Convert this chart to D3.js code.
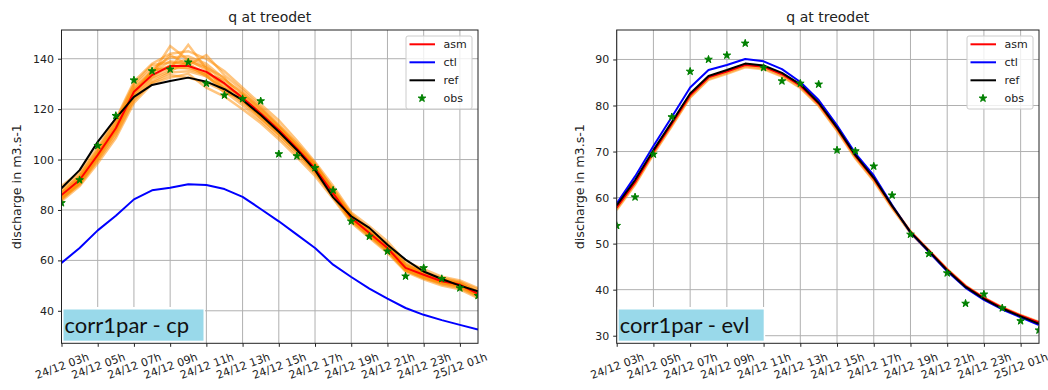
<!DOCTYPE html>
<html>
<head>
<meta charset="utf-8">
<script src="https://cdn.jsdelivr.net/npm/d3@7"></script>
<style>
    body { margin: 0; background: #fff; }
    svg text { font-family: "DejaVu Sans", sans-serif; }
</style>
</head>
<body>
<svg id="chart" width="1048" height="390"></svg>
<script>
// hourly steps from 24/12 03h to 25/12 02h
const times = d3.timeHour.range(new Date(2018, 11, 24, 3), new Date(2018, 11, 25, 3));
const tickTimes = times.filter((d, i) => i % 2 === 0);

const seriesNames = ["asm", "ctl", "ref", "obs"];

// ---- left panel : corr1par - cp
const cpAsm = [85.9, 91.9, 101.8, 112.4, 126.9, 133.5, 137.1, 137.1, 134.8, 130.2, 124.5, 118.3, 111.7, 104.4, 96.5, 86.6, 76.8, 70.9, 64.9, 57.0, 54.3, 51.7, 50.4, 46.7];
const cpCtl = [59.0, 64.9, 71.9, 77.7, 84.2, 87.8, 88.8, 90.2, 89.9, 88.3, 85.2, 80.4, 75.5, 70.2, 64.9, 58.3, 53.4, 48.8, 44.8, 41.1, 38.4, 36.3, 34.4, 32.6];
const cpRef = [88.6, 95.8, 107.0, 116.3, 124.9, 129.6, 131.2, 132.5, 130.9, 127.9, 123.6, 117.7, 111.0, 103.8, 95.8, 85.0, 77.5, 72.9, 66.2, 60.3, 55.6, 52.6, 50.0, 47.7];
const cpObs = [82.8, 91.9, 105.5, 117.4, 131.5, 135.1, 135.8, 138.6, 130.2, 125.5, 124.1, 123.2, 102.2, 101.4, 96.7, 87.8, 75.5, 69.5, 63.6, 53.7, 57.0, 52.7, 49.0, 46.0];
const cpMembers = [
    [84.0, 90.5, 100.0, 110.5, 124.0, 131.0, 134.5, 135.0, 133.0, 128.5, 122.5, 116.5, 110.0, 103.0, 95.0, 85.5, 76.0, 70.0, 64.0, 56.5, 53.5, 51.0, 49.5, 46.0],
    [87.5, 93.5, 103.5, 114.5, 129.5, 136.0, 140.5, 141.0, 138.0, 132.0, 126.0, 120.0, 113.0, 105.5, 97.5, 87.5, 77.5, 71.5, 65.5, 57.5, 55.0, 52.5, 51.0, 47.5],
    [86.0, 92.0, 102.5, 113.0, 127.5, 134.0, 145.0, 139.5, 135.5, 129.0, 125.0, 119.0, 112.0, 105.0, 97.0, 87.0, 77.0, 71.0, 65.5, 58.0, 55.5, 52.0, 50.5, 47.0],
    [85.0, 91.0, 101.0, 111.5, 126.0, 135.5, 136.0, 145.5, 136.0, 127.5, 123.0, 117.5, 111.0, 104.0, 96.0, 86.0, 76.5, 70.5, 64.5, 56.5, 54.0, 51.5, 50.0, 46.5],
    [88.5, 94.0, 104.0, 115.5, 130.0, 137.5, 138.5, 137.5, 141.5, 133.5, 127.5, 121.0, 114.0, 106.0, 98.0, 88.5, 78.5, 72.5, 66.5, 58.5, 55.5, 53.0, 51.5, 48.5],
    [84.5, 90.0, 99.5, 109.5, 123.5, 130.5, 133.5, 132.5, 130.5, 127.0, 121.5, 115.5, 109.0, 102.0, 94.5, 85.0, 75.5, 69.5, 63.5, 56.0, 53.0, 50.5, 49.0, 45.5],
    [86.5, 92.5, 102.0, 113.5, 128.5, 134.5, 139.0, 138.0, 134.0, 131.5, 126.5, 120.5, 113.5, 106.5, 98.5, 88.0, 78.0, 72.0, 66.0, 58.0, 55.0, 52.5, 51.0, 47.5],
    [85.5, 91.5, 101.5, 112.0, 127.0, 133.0, 137.5, 140.0, 137.0, 130.5, 124.0, 117.0, 110.5, 103.5, 95.5, 86.5, 77.0, 71.0, 64.0, 56.0, 53.5, 51.0, 50.0, 46.0],
    [87.0, 93.0, 103.0, 114.0, 128.0, 135.0, 137.0, 136.0, 133.5, 126.5, 124.5, 118.5, 112.5, 105.0, 97.0, 87.0, 77.5, 71.5, 65.0, 57.0, 54.5, 52.0, 50.5, 47.0],
    [85.0, 90.5, 100.5, 111.0, 125.5, 132.5, 136.0, 136.5, 134.0, 130.0, 124.0, 118.0, 111.5, 104.0, 96.0, 86.0, 76.0, 70.0, 64.5, 57.5, 54.0, 51.5, 50.0, 46.5],
    [89.5, 95.0, 105.0, 116.0, 131.0, 138.0, 142.0, 143.0, 140.0, 135.0, 128.5, 122.0, 115.5, 107.5, 99.0, 89.5, 79.0, 73.5, 67.5, 59.5, 56.5, 53.5, 52.0, 49.0],
    [83.5, 89.5, 98.5, 108.5, 122.5, 130.0, 132.5, 134.0, 128.5, 125.0, 120.0, 114.5, 108.0, 101.0, 93.5, 84.5, 75.0, 69.0, 63.0, 55.5, 52.5, 50.0, 48.5, 45.0],
    [86.5, 93.0, 102.0, 112.5, 126.0, 134.5, 141.5, 137.5, 133.0, 128.0, 126.0, 119.5, 113.0, 105.5, 98.0, 87.5, 78.0, 72.0, 66.0, 58.5, 55.0, 52.0, 51.0, 47.5],
    [84.5, 91.0, 101.5, 112.0, 125.0, 132.0, 135.0, 139.0, 136.5, 132.5, 123.5, 116.5, 110.0, 103.0, 95.0, 86.0, 76.0, 70.0, 64.0, 56.0, 53.0, 51.0, 49.5, 46.0]
];
const cpTicks = [40, 60, 80, 100, 120, 140];

// ---- right panel : corr1par - evl
const evlAsm = [57.8, 63.3, 69.9, 76.0, 82.2, 86.1, 87.4, 88.8, 88.4, 86.8, 84.3, 80.4, 75.0, 69.0, 64.1, 58.1, 52.6, 48.5, 44.4, 40.8, 38.2, 36.1, 34.4, 32.9];
const evlCtl = [58.7, 64.6, 71.2, 77.5, 83.9, 87.7, 88.8, 90.1, 89.6, 87.9, 85.1, 81.2, 75.7, 69.6, 64.8, 58.4, 52.4, 48.2, 44.0, 40.4, 37.8, 35.7, 34.0, 32.3];
const evlRef = [58.3, 63.8, 70.3, 76.4, 82.6, 86.4, 87.7, 89.1, 88.7, 87.1, 84.6, 80.6, 75.2, 69.2, 64.3, 58.2, 52.5, 48.4, 44.2, 40.6, 38.0, 35.9, 34.2, 32.6];
const evlObs = [53.9, 60.1, 69.4, 77.5, 87.4, 90.0, 90.9, 93.5, 88.2, 85.3, 84.8, 84.6, 70.3, 70.1, 66.8, 60.5, 52.0, 47.8, 43.6, 37.0, 39.0, 36.0, 33.2, 31.2];
const evlMembers = [
    [57.5, 63.0, 69.6, 75.7, 81.9, 85.8, 87.1, 88.5, 88.1, 86.5, 84.0, 80.1, 74.7, 68.7, 63.8, 57.9, 52.4, 48.3, 44.3, 40.7, 38.1, 36.0, 34.3, 32.8],
    [57.3, 62.8, 69.4, 75.5, 81.7, 85.6, 86.9, 88.3, 87.9, 86.3, 83.8, 79.9, 74.5, 68.5, 63.6, 57.7, 52.3, 48.2, 44.2, 40.6, 38.0, 35.9, 34.2, 32.7],
    [57.9, 63.4, 70.0, 76.1, 82.3, 86.2, 87.5, 88.9, 88.5, 86.9, 84.4, 80.5, 75.1, 69.1, 64.2, 58.2, 52.7, 48.6, 44.5, 40.9, 38.3, 36.2, 34.5, 33.0]
];
const evlTicks = [30, 40, 50, 60, 70, 80, 90];

const colors = { asm: "red", ctl: "blue", ref: "black", obs: "green", member: "#ff8c00" };

const svg = d3.select("#chart");

function drawPanel(p) {
    const top = 30, bottom = 343.3;
    const x = d3.scaleTime().domain(d3.extent(times)).range([p.left, p.right]);
    const y = d3.scaleLinear().domain(p.yDomain).range([bottom, top]);
    const g = svg.append("g");

    // grid
    g.append("g").selectAll("line").data(tickTimes).join("line")
        .attr("x1", d => x(d)).attr("x2", d => x(d))
        .attr("y1", top).attr("y2", bottom)
        .attr("stroke", "#b0b0b0").attr("stroke-width", 1);
    g.append("g").selectAll("line").data(p.yTicks).join("line")
        .attr("x1", p.left).attr("x2", p.right)
        .attr("y1", d => y(d)).attr("y2", d => y(d))
        .attr("stroke", "#b0b0b0").attr("stroke-width", 1);

    // clip to the axes
    svg.append("clipPath").attr("id", p.id + "-clip")
        .append("rect").attr("x", p.left).attr("y", top)
        .attr("width", p.right - p.left).attr("height", bottom - top);
    const plot = g.append("g").attr("clip-path", "url(#" + p.id + "-clip)");

    const line = d3.line().x((d, i) => x(times[i])).y(d => y(d));

    // ensemble members
    plot.selectAll("path.member").data(p.members).join("path")
        .attr("class", "member")
        .attr("d", line)
        .attr("fill", "none")
        .attr("stroke", colors.member)
        .attr("stroke-opacity", 0.5)
        .attr("stroke-width", 2.5);

    [["asm", p.asm], ["ctl", p.ctl], ["ref", p.ref]].forEach(function (s) {
        plot.append("path")
            .attr("d", line(s[1]))
            .attr("fill", "none")
            .attr("stroke", colors[s[0]])
            .attr("stroke-width", 2)
            .attr("stroke-linejoin", "round");
    });

    // observations
    const star = d3.symbol().type(d3.symbolStar).size(18);
    plot.selectAll("path.obs").data(p.obs).join("path")
        .attr("class", "obs")
        .attr("transform", (d, i) => "translate(" + x(times[i]) + "," + y(d) + ")")
        .attr("d", star)
        .attr("fill", colors.obs)
        .attr("stroke", colors.obs)
        .attr("stroke-width", 1);

    // annotation box
    g.append("rect")
        .attr("x", p.left + 0.5).attr("y", 307)
        .attr("width", p.boxWidth + 3).attr("height", 35.8)
        .attr("fill", "#fff");
    g.append("rect")
        .attr("x", p.left + 2).attr("y", 309.5)
        .attr("width", p.boxWidth).attr("height", 31.2)
        .attr("fill", "#99d9ea");
    g.append("text")
        .attr("x", p.left + 3).attr("y", 332.5)
        .style("font-family", "Lato, sans-serif")
        .style("font-size", "22px")
        .attr("fill", "#111")
        .text(p.label);

    // frame
    g.append("rect")
        .attr("x", p.left).attr("y", top)
        .attr("width", p.right - p.left).attr("height", bottom - top)
        .attr("fill", "none").attr("stroke", "#222").attr("stroke-width", 1);

    // axes
    const xAxis = g.append("g")
        .attr("transform", "translate(0," + bottom + ")")
        .call(d3.axisBottom(x).tickValues(tickTimes)
            .tickFormat(d3.timeFormat("%d/%m %Hh")).tickSize(3.5));
    xAxis.select(".domain").remove();
    xAxis.selectAll("line").attr("stroke", "#222");
    xAxis.selectAll("text")
        .attr("y", 0).attr("dy", "0.35em")
        .attr("transform", "translate(0,22.5) rotate(-20)")
        .style("font-size", "11px")
        .attr("fill", "#222");

    const yAxis = g.append("g")
        .attr("transform", "translate(" + p.left + ",0)")
        .call(d3.axisLeft(y).tickValues(p.yTicks).tickSize(3.5).tickPadding(4));
    yAxis.select(".domain").remove();
    yAxis.selectAll("line").attr("stroke", "#222");
    yAxis.selectAll("text").style("font-size", "11px").attr("fill", "#222");

    // title and y label
    g.append("text")
        .attr("x", (p.left + p.right) / 2).attr("y", 21.5)
        .attr("text-anchor", "middle")
        .style("font-size", "14px")
        .attr("fill", "#222")
        .text("q at treodet");
    g.append("text")
        .attr("transform", "translate(" + p.yLabelX + "," + (top + bottom) / 2 + ") rotate(-90)")
        .attr("dy", "0.35em")
        .attr("text-anchor", "middle")
        .style("font-size", "12.7px")
        .attr("fill", "#222")
        .text("discharge in m3.s-1");

    // legend
    const lx = p.right - 72, ly = 36;
    const legend = g.append("g").attr("transform", "translate(" + lx + "," + ly + ")");
    legend.append("rect")
        .attr("width", 66).attr("height", 73).attr("rx", 2)
        .attr("fill", "#fff").attr("fill-opacity", 0.8)
        .attr("stroke", "#ccc");
    const item = legend.selectAll("g").data(seriesNames).join("g")
        .attr("transform", (d, i) => "translate(0," + (8.3 + i * 18) + ")");
    item.filter(d => d !== "obs").append("line")
        .attr("x1", 3.5).attr("x2", 29)
        .attr("stroke", d => colors[d]).attr("stroke-width", 2);
    item.filter(d => d === "obs").append("path")
        .attr("transform", "translate(16,0)")
        .attr("d", star)
        .attr("fill", colors.obs).attr("stroke", colors.obs);
    item.append("text")
        .attr("x", 37.5).attr("dy", "0.35em")
        .style("font-size", "11px")
        .attr("fill", "#222")
        .text(d => d);
}

drawPanel({
    id: "cp", left: 61.5, right: 478, yDomain: [27.1, 151.4], yTicks: cpTicks,
    asm: cpAsm, ctl: cpCtl, ref: cpRef, obs: cpObs, members: cpMembers,
    label: "corr1par - cp", boxWidth: 140, yLabelX: 17
});
drawPanel({
    id: "evl", left: 616.7, right: 1039, yDomain: [28.35, 96.4], yTicks: evlTicks,
    asm: evlAsm, ctl: evlCtl, ref: evlRef, obs: evlObs, members: evlMembers,
    label: "corr1par - evl", boxWidth: 145, yLabelX: 580
});
</script>
</body>
</html>
